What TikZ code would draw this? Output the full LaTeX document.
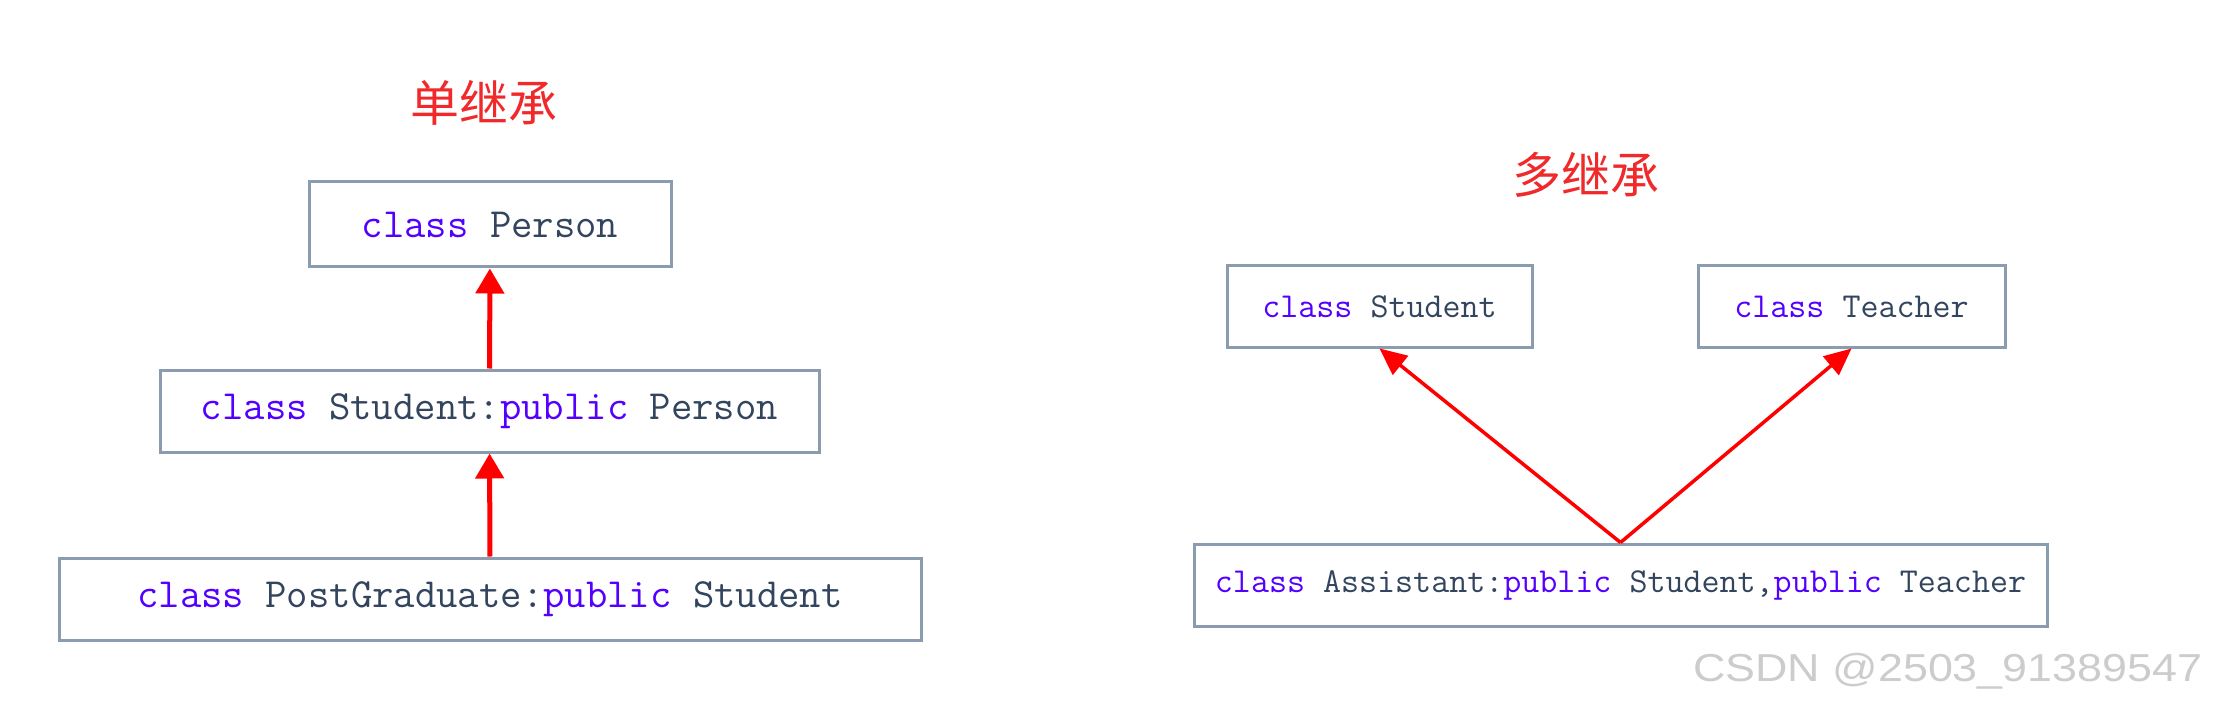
\documentclass[tikz,border=0pt]{standalone}
\usepackage{fontspec}
\usepackage{tikz}
\usetikzlibrary{arrows.meta}
\newfontfamily\cjkfont{Noto Sans CJK SC}
\newfontfamily\markfont{Liberation Sans}
\tikzset{cls/.style = {draw = mframe, line width = 3, inner sep = 0, minimum height = 82, text = mtext, font = \ttfamily\fontsize{41.5}{50}\selectfont}}
\tikzset{clsr/.style = {cls, font = \ttfamily\fontsize{35}{42}\selectfont}}
\tikzset{headline/.style = {text = mtitle, font = \cjkfont\fontsize{49}{56}\selectfont}}
\tikzset{inh/.style = {mred, line width = 5, -{Triangle[length = 25pt, width = 28pt]}}}
\definecolor{mkey}{rgb}{0.33, 0, 1}
\definecolor{mtext}{rgb}{0.2, 0.27, 0.37}
\definecolor{mframe}{rgb}{0.55, 0.61, 0.69}
\definecolor{mred}{rgb}{1, 0, 0}
\definecolor{mtitle}{rgb}{0.94, 0.16, 0.17}
\definecolor{mgray}{rgb}{0.8, 0.8, 0.8}
\newcommand{\keyw}[1]{\textcolor{mkey}{#1}}

\begin{document}
\begin{tikzpicture}[x=1pt, y=1pt]
       \useasboundingbox (0, 0) rectangle (2215, 705);

       % single inheritance
       \node [headline] (single) at (484, 602) {单继承};
       \node [cls, minimum width = 362, minimum height = 85] (person) at (490, 480.5) {\keyw{class} Person};
       \node [cls, minimum width = 659] (student) at (489.5, 294) {\keyw{class} Student:\keyw{public} Person};
       \node [cls, minimum width = 862] (postgrad) at (490, 106) {\keyw{class} PostGraduate:\keyw{public} Student};
       \draw [inh] (student) -- (person);
       \draw [inh] (postgrad) -- (student);

       % multiple inheritance
       \node [headline] (multi) at (1586, 530) {多继承};
       \node [clsr, minimum width = 305, minimum height = 81] (stud) at (1379.5, 398.5) {\keyw{class} Student};
       \node [clsr, minimum width = 307, minimum height = 81] (teacher) at (1851.5, 398.5) {\keyw{class} Teacher};
       \node [clsr, minimum width = 853] (assistant) at (1620.5, 120) {\keyw{class} Assistant:\keyw{public} Student,\keyw{public} Teacher};
       \draw [inh, line width = 3.5, -{Triangle[length = 27pt, width = 24pt]}] (assistant.north) -- (stud.south);
       \draw [inh, line width = 3.5, -{Triangle[length = 27pt, width = 24pt]}] (assistant.north) -- (teacher.south);

       \node [anchor = base east, text = mgray, font = \markfont\fontsize{39}{45}\selectfont] (mark) at (2206, 24) {\scalebox{1.15}[1]{CSDN @2503\_91389547}};
\end{tikzpicture}
\end{document}
